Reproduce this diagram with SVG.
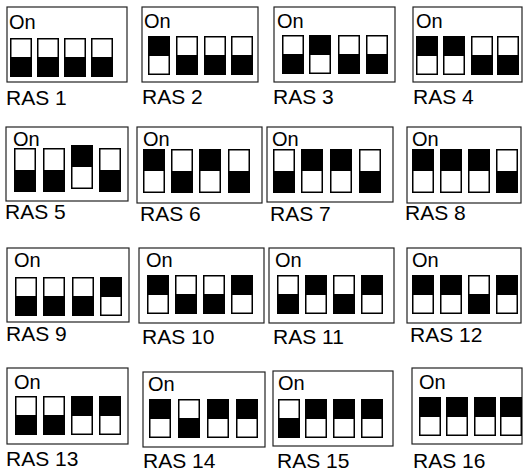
<svg xmlns="http://www.w3.org/2000/svg" xmlns:xlink="http://www.w3.org/1999/xlink" width="527" height="471" viewBox="0 0 527 471">
<style>
.box{fill:#fff;stroke:#222;stroke-width:1.2}
.on{font-family:"Liberation Sans",Arial,sans-serif;font-size:20px;fill:#000}
.lbl{font-family:"Liberation Sans",Arial,sans-serif;font-size:21px;fill:#000}
</style>
<defs>
<g id="sw0"><rect x="0.75" y="0.75" width="20.5" height="37.5" fill="#fff" stroke="#000" stroke-width="1.5"/><rect x="0" y="19" width="22" height="20" fill="#000"/></g>
<g id="sw1"><rect x="0.75" y="0.75" width="20.5" height="37.5" fill="#fff" stroke="#000" stroke-width="1.5"/><rect x="0" y="0" width="22" height="20" fill="#000"/></g>
<g id="tw0"><rect x="0.75" y="0.75" width="20.5" height="42.5" fill="#fff" stroke="#000" stroke-width="1.5"/><rect x="0" y="22" width="22" height="22" fill="#000"/></g>
<g id="tw1"><rect x="0.75" y="0.75" width="20.5" height="42.5" fill="#fff" stroke="#000" stroke-width="1.5"/><rect x="0" y="0" width="22" height="22" fill="#000"/></g>
</defs>
<rect width="527" height="471" fill="#fff"/>
<g id="connectors"/>
<g id="ras1"><rect class="box" x="7" y="7" width="120" height="75"/><text class="on" x="9" y="29">On</text>
<use xlink:href="#sw0" x="10" y="38"/><use xlink:href="#sw0" x="37" y="38"/><use xlink:href="#sw0" x="64" y="38"/><use xlink:href="#sw0" x="91" y="38"/>
<text class="lbl" x="6" y="105">RAS 1</text></g>
<g id="ras2"><rect class="box" x="142" y="7" width="116" height="75"/><text class="on" x="144" y="28">On</text>
<use xlink:href="#sw1" x="148" y="36"/><use xlink:href="#sw0" x="176" y="36"/><use xlink:href="#sw0" x="204" y="36"/><use xlink:href="#sw0" x="231" y="36"/>
<text class="lbl" x="142" y="104">RAS 2</text></g>
<g id="ras3"><rect class="box" x="274" y="7" width="121" height="75"/><text class="on" x="277" y="28">On</text>
<use xlink:href="#sw0" x="282" y="35"/><use xlink:href="#sw1" x="309" y="35"/><use xlink:href="#sw0" x="338" y="35"/><use xlink:href="#sw0" x="366" y="35"/>
<text class="lbl" x="273" y="104">RAS 3</text></g>
<g id="ras4"><rect class="box" x="413" y="7" width="109" height="75"/><text class="on" x="416" y="28">On</text>
<use xlink:href="#sw1" x="416" y="36"/><use xlink:href="#sw1" x="443" y="36"/><use xlink:href="#sw0" x="471" y="36"/><use xlink:href="#sw0" x="497" y="36"/>
<text class="lbl" x="413" y="104">RAS 4</text></g>

<g id="ras5"><rect class="box" x="6" y="127" width="122" height="74"/><text class="on" x="13" y="146">On</text>
<use xlink:href="#tw0" x="14" y="148"/><use xlink:href="#tw0" x="43" y="148"/><use xlink:href="#tw1" x="71" y="145"/><use xlink:href="#tw0" x="99" y="148"/>
<text class="lbl" x="5" y="219">RAS 5</text></g>
<g id="ras6"><rect class="box" x="137" y="127" width="125" height="76"/><text class="on" x="143" y="146">On</text>
<use xlink:href="#tw1" x="143" y="149"/><use xlink:href="#tw0" x="171" y="149"/><use xlink:href="#tw1" x="199" y="149"/><use xlink:href="#tw0" x="228" y="149"/>
<text class="lbl" x="140" y="221">RAS 6</text></g>
<g id="ras7"><rect class="box" x="267" y="127" width="126" height="75"/><text class="on" x="272" y="146">On</text>
<use xlink:href="#tw0" x="273" y="149"/><use xlink:href="#tw1" x="301" y="149"/><use xlink:href="#tw1" x="330" y="149"/><use xlink:href="#tw0" x="359" y="149"/>
<text class="lbl" x="270" y="221">RAS 7</text></g>
<g id="ras8"><rect class="box" x="407" y="127" width="114" height="76"/><text class="on" x="412" y="146">On</text>
<use xlink:href="#tw1" x="412" y="149"/><use xlink:href="#tw1" x="440" y="149"/><use xlink:href="#tw1" x="468" y="149"/><use xlink:href="#tw0" x="496" y="149"/>
<text class="lbl" x="405" y="220">RAS 8</text></g>

<g id="ras9"><rect class="box" x="7" y="248" width="122" height="74"/><text class="on" x="14" y="267">On</text>
<use xlink:href="#sw0" x="15" y="277"/><use xlink:href="#sw0" x="43" y="277"/><use xlink:href="#sw0" x="72" y="277"/><use xlink:href="#sw1" x="100" y="277"/>
<text class="lbl" x="6" y="341">RAS 9</text></g>
<g id="ras10"><rect class="box" x="139" y="248" width="125" height="75"/><text class="on" x="146" y="267">On</text>
<use xlink:href="#sw1" x="147" y="275"/><use xlink:href="#sw0" x="175" y="275"/><use xlink:href="#sw0" x="203" y="275"/><use xlink:href="#sw1" x="231" y="275"/>
<text class="lbl" x="142" y="344">RAS 10</text></g>
<g id="ras11"><rect class="box" x="269" y="248" width="125" height="75"/><text class="on" x="275" y="267">On</text>
<use xlink:href="#sw0" x="277" y="275"/><use xlink:href="#sw1" x="305" y="275"/><use xlink:href="#sw0" x="333" y="275"/><use xlink:href="#sw1" x="361" y="275"/>
<text class="lbl" x="273" y="344">RAS 11</text></g>
<g id="ras12"><rect class="box" x="407" y="248" width="114" height="75"/><text class="on" x="412" y="267">On</text>
<use xlink:href="#sw1" x="412" y="275"/><use xlink:href="#sw1" x="440" y="275"/><use xlink:href="#sw0" x="468" y="275"/><use xlink:href="#sw1" x="496" y="275"/>
<text class="lbl" x="410" y="342">RAS 12</text></g>

<g id="ras13"><rect class="box" x="7" y="368" width="121" height="76"/><text class="on" x="14" y="389">On</text>
<use xlink:href="#sw0" x="15" y="396"/><use xlink:href="#sw0" x="43" y="396"/><use xlink:href="#sw1" x="71" y="396"/><use xlink:href="#sw1" x="99" y="396"/>
<text class="lbl" x="6" y="466">RAS 13</text></g>
<g id="ras14"><rect class="box" x="143" y="372" width="122" height="75"/><text class="on" x="148" y="391">On</text>
<use xlink:href="#sw1" x="149" y="399"/><use xlink:href="#sw0" x="178" y="399"/><use xlink:href="#sw1" x="207" y="399"/><use xlink:href="#sw1" x="236" y="399"/>
<text class="lbl" x="143" y="468">RAS 14</text></g>
<g id="ras15"><rect class="box" x="273" y="371" width="120" height="75"/><text class="on" x="278" y="390">On</text>
<use xlink:href="#sw0" x="278" y="399"/><use xlink:href="#sw1" x="305" y="399"/><use xlink:href="#sw1" x="333" y="399"/><use xlink:href="#sw1" x="361" y="399"/>
<text class="lbl" x="277" y="468">RAS 15</text></g>
<g id="ras16"><rect class="box" x="412" y="368" width="110" height="76"/><text class="on" x="419" y="389">On</text>
<use xlink:href="#sw1" x="419" y="397"/><use xlink:href="#sw1" x="446" y="397"/><use xlink:href="#sw1" x="474" y="397"/><use xlink:href="#sw1" x="500" y="397"/>
<text class="lbl" x="413" y="468">RAS 16</text></g>
</svg>
